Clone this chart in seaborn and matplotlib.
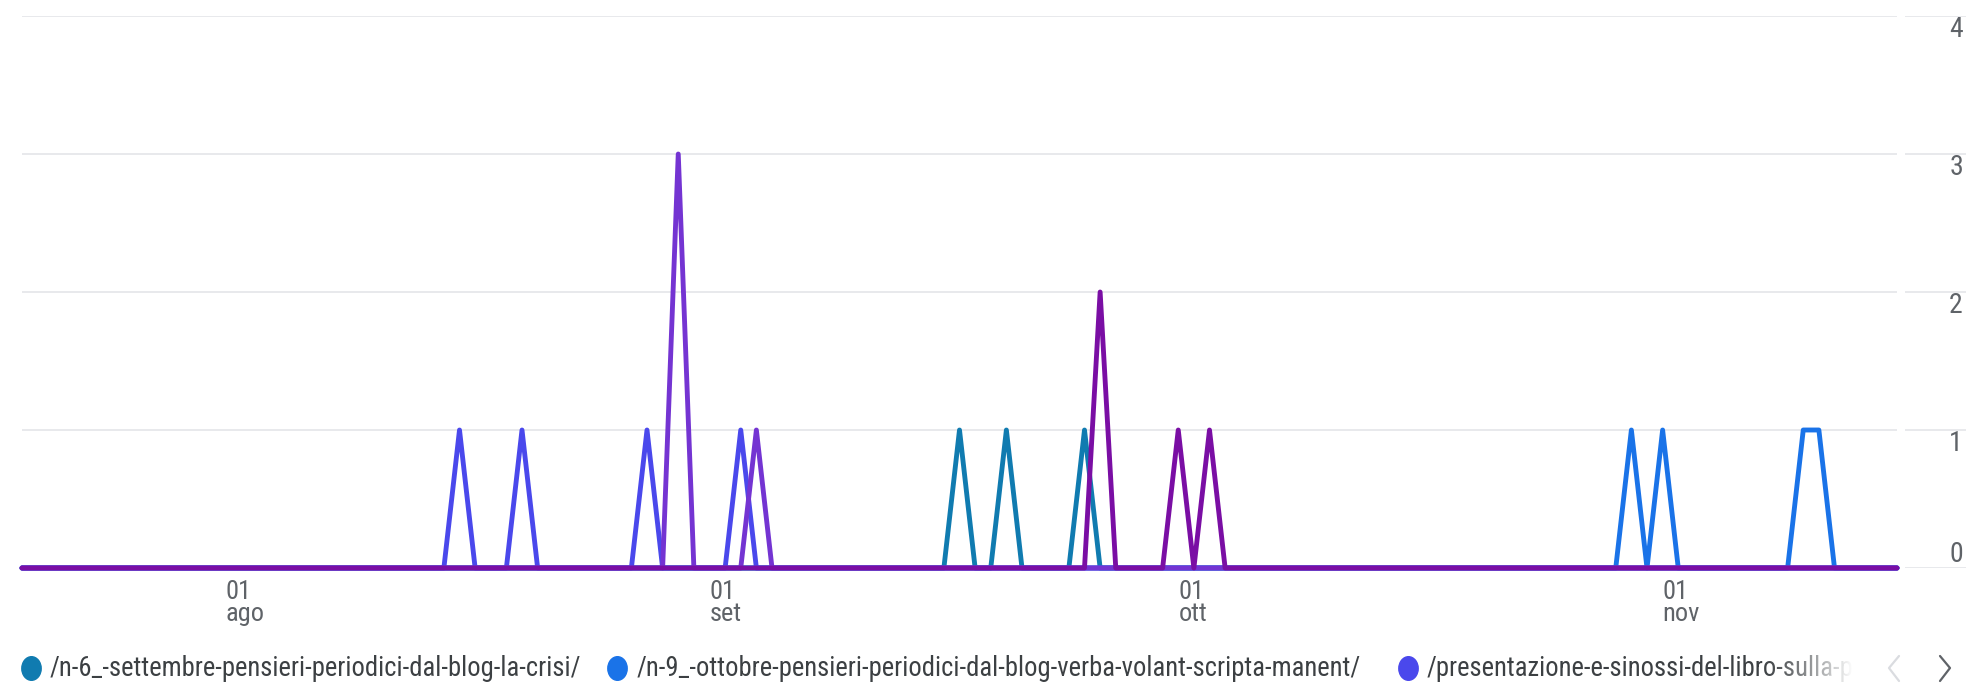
import numpy as np
import pandas as pd
import matplotlib
matplotlib.use("Agg")
import matplotlib.pyplot as plt
from matplotlib import font_manager
from matplotlib.patches import Rectangle
from matplotlib.path import Path
from matplotlib.markers import MarkerStyle
from matplotlib.transforms import Affine2D
import seaborn as sns

# -----------------------------
# Data (daily page views)
# -----------------------------
start_day = "2024-07-19"
end_day = "2024-11-16"

n6_days = ["2024-09-17", "2024-09-20", "2024-09-25"]
n6_vals = [1, 1, 1]
n9_days = ["2024-10-30", "2024-11-01", "2024-11-10", "2024-11-11"]
n9_vals = [1, 1, 1, 1]
pres_days = ["2024-08-16", "2024-08-20", "2024-08-28", "2024-09-03"]
pres_vals = [1, 1, 1, 1]
viola_days = ["2024-08-30", "2024-09-04"]
viola_vals = [3, 1]
porpora_days = ["2024-09-26", "2024-10-01", "2024-10-03"]
porpora_vals = [2, 1, 1]

series_names = ["/n-6_-settembre-pensieri-periodici-dal-blog-la-crisi/",
                "/n-9_-ottobre-pensieri-periodici-dal-blog-verba-volant-scripta-manent/",
                "/presentazione-e-sinossi-del-libro-sulla-pelle-dei-poveri/",
                "serie 4", "serie 5"]
series_days = [n6_days, n9_days, pres_days, viola_days, porpora_days]
series_vals = [n6_vals, n9_vals, pres_vals, viola_vals, porpora_vals]
colors = ["#107bb0", "#1a73e8", "#4a48ec", "#7434d2", "#7a0ea4"]

month_ticks = ["2024-08-01", "2024-09-01", "2024-10-01", "2024-11-01"]
month_labels = ["01\nago", "01\nset", "01\nott", "01\nnov"]
y_ticks = [0, 1, 2, 3, 4]

dates = pd.date_range(start_day, end_day, freq="D")
rows = []
for name, days, vals in zip(series_names, series_days, series_vals):
    s = pd.Series(0, index=dates)
    s.loc[pd.to_datetime(days)] = vals
    rows.append(pd.DataFrame({"data": dates, "valore": s.values, "pagina": name}))
df = pd.concat(rows, ignore_index=True)

# -----------------------------
# Style
# -----------------------------
sns.set_style("white")
installed = {f.name for f in font_manager.fontManager.ttflist}
font = "DejaVu Sans"
for cand in ["Liberation Sans Narrow", "Roboto Condensed", "DejaVu Sans Condensed",
             "Open Sans Condensed", "Roboto", "Liberation Sans"]:
    if cand in installed:
        font = cand
        break
plt.rcParams["font.family"] = [font, "DejaVu Sans"]

W, H = 1966, 688
fig = plt.figure(figsize=(W / 100, H / 100), dpi=100)
bottom = 1 - 568 / H
top = 1 - 16 / H
ax = fig.add_axes([22 / W, bottom, (1897 - 22) / W, top - bottom])

for name, col in zip(series_names, colors):
    sub = df[df["pagina"] == name]
    sns.lineplot(data=sub, x="data", y="valore", ax=ax, color=col,
                 linewidth=3.5, clip_on=False, zorder=3)

ax.set_xlim(dates[0], dates[-1])
ax.set_ylim(0, 4)
ax.set_yticks(y_ticks)
ax.set_yticklabels([])
ax.tick_params(axis="y", length=0)
ax.grid(axis="y", color="#e6e7ea", linewidth=1.3)
ax.grid(axis="x", visible=False)
for sp in ax.spines.values():
    sp.set_visible(False)
ax.set_xlabel("")
ax.set_ylabel("")

ax.set_xticks(pd.to_datetime(month_ticks))
ax.set_xticklabels(month_labels)
ax.tick_params(axis="x", length=7.5, width=1.2, color="#dadce0",
               labelcolor="#5f6368", labelsize=19, pad=1)
for lab in ax.get_xticklabels():
    lab.set_horizontalalignment("left")
    lab.set_linespacing(0.9)

# right value axis
ax2 = fig.add_axes([1905 / W, bottom, (W - 1905) / W, top - bottom], sharey=ax)
ax2.set_xlim(0, 1)
ax2.set_xticks([])
ax2.tick_params(axis="y", length=0, labelleft=False)
ax2.grid(axis="y", color="#e6e7ea", linewidth=1.3)
for sp in ax2.spines.values():
    sp.set_visible(False)
for v in y_ticks:
    ax2.text(0.95, v, str(v), ha="right", va="bottom" if v == 0 else "top",
             fontsize=20, color="#5f6368")
ax2.patch.set_alpha(0)

# -----------------------------
# Legend row (pixel overlay)
# -----------------------------
ov = fig.add_axes([0, 0, 1, 1], zorder=5)
ov.set_xlim(0, W)
ov.set_ylim(H, 0)
ov.axis("off")
ov.patch.set_alpha(0)

# fit legend font so the first label spans the same width as in the picture
renderer = fig.canvas.get_renderer()
probe = ov.text(0, 0, series_names[0], fontsize=20)
w_probe = probe.get_window_extent(renderer).width
probe.remove()
leg_size = min(20, 20 * 530 / w_probe)

oval = MarkerStyle(Path.unit_circle().transformed(Affine2D().scale(0.82, 1)))
leg_dot_x = [31, 617, 1408]
leg_text_x = [50, 637, 1427]
leg_y = 668
for i in range(3):
    ov.plot([leg_dot_x[i]], [leg_y], marker=oval, markersize=17,
            color=colors[i], linestyle="none")
    ov.text(leg_text_x[i], leg_y + 1, series_names[i], ha="left", va="center",
            fontsize=leg_size, color="#3c4043")

fade = np.ones((1, 100, 4))
fade[0, :, 3] = np.linspace(0, 1, 100) ** 1.3
ov.imshow(fade, extent=[1760, 1853, leg_y + 24, leg_y - 24], aspect="auto",
          zorder=6, interpolation="bilinear")
ov.add_patch(Rectangle((1853, leg_y - 24), W - 1853, 48, color="white", zorder=6))
ov.set_xlim(0, W)
ov.set_ylim(H, 0)
ov.plot([1899, 1889, 1899], [656, 668, 681], color="#dadce0", lw=1.6, zorder=7)
ov.plot([1940, 1950, 1940], [656, 668, 681], color="#5f6368", lw=1.6, zorder=7)

fig.savefig("out.png", dpi=100, facecolor="white")
